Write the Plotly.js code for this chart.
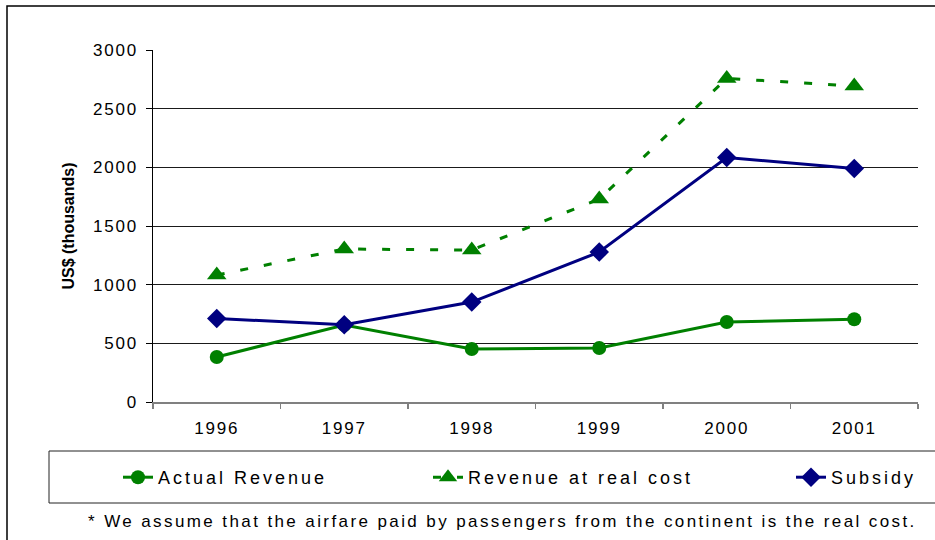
<!DOCTYPE html>
<html>
<head>
<meta charset="utf-8">
<script src="https://cdn.plot.ly/plotly-3.0.1.min.js"></script>
<style>
  html, body { margin: 0; padding: 0; background: #fff; }
  #chart { width: 935px; height: 540px; }
  .xtick text, .ytick text { letter-spacing: 1.8px; }
  .legendtext, text[class*="legend"], .infolayer [class^="legend"] text { letter-spacing: 3px !important; }
  .annotation-text { letter-spacing: 2.4px; }
</style>
</head>
<body>
<div id="chart"></div>
<script>
const years = ['1996', '1997', '1998', '1999', '2000', '2001'];
const actualRevenue = [384, 655, 452, 460, 682, 705];
const revenueRealCost = [1082, 1304, 1295, 1730, 2758, 2693];
const subsidy = [712, 658, 852, 1278, 2084, 1990];
const seriesNames = ['Actual Revenue', 'Revenue at real cost', 'Subsidy'];
const yTitle = 'US$ (thousands)';
const footnote = '* We assume that the airfare paid by passengers from the continent is the real cost.';

const FONT = '"Liberation Sans", Arial, sans-serif';
const GREEN = '#008000';
const NAVY = '#000080';

const traces = [
  {
    x: years, y: actualRevenue, name: seriesNames[0], type: 'scatter', mode: 'lines+markers',
    line: {color: GREEN, width: 3},
    marker: {symbol: 'circle', size: 14, color: GREEN},
    legend: 'legend'
  },
  {
    x: years, y: revenueRealCost, name: seriesNames[1], type: 'scatter', mode: 'lines+markers',
    line: {color: GREEN, width: 3, dash: '8px,16px'},
    marker: {symbol: 'triangle-up', size: 17, color: GREEN},
    legend: 'legend2'
  },
  {
    x: years, y: subsidy, name: seriesNames[2], type: 'scatter', mode: 'lines+markers',
    line: {color: NAVY, width: 3},
    marker: {symbol: 'diamond', size: 15, color: NAVY},
    legend: 'legend3'
  }
];

const L = 153, R = 17, T = 50, B = 138;
const W = 935, H = 540;
const pw = W - L - R, ph = H - T - B;
const px = (x) => (x - L) / pw;
const py = (y) => (H - B - y) / ph;

function legendAt(xPix) {
  return {
    orientation: 'h',
    x: px(xPix), y: py(459), xanchor: 'left', yanchor: 'top',
    bgcolor: 'rgba(0,0,0,0)', borderwidth: 0,
    font: {family: FONT, size: 18, color: '#000'},
    itemclick: false, itemdoubleclick: false
  };
}

const layout = {
  width: W, height: H,
  margin: {l: L, r: R, t: T, b: B, pad: 0},
  paper_bgcolor: '#fff', plot_bgcolor: '#fff',
  font: {family: FONT, size: 17, color: '#000'},
  showlegend: true,
  xaxis: {
    type: 'category',
    range: [-0.5, 5.5],
    showgrid: false,
    zeroline: false,
    showline: true, linecolor: '#808080', linewidth: 2,
    ticks: 'outside', tickson: 'boundaries', ticklen: 5, tickcolor: '#808080', tickwidth: 1.5,
    tickfont: {family: FONT, size: 17, color: '#000'},
    ticklabelstandoff: 10,
    fixedrange: true
  },
  yaxis: {
    range: [0, 3000],
    dtick: 500, tick0: 0,
    showgrid: true, gridcolor: '#1a1a1a', gridwidth: 1,
    zeroline: false,
    showline: true, linecolor: '#000', linewidth: 1.5,
    ticks: 'outside', ticklen: 6, tickcolor: '#000', tickwidth: 1,
    tickfont: {family: FONT, size: 17, color: '#000'},
    ticklabelstandoff: 4,
    title: {text: '<b>' + yTitle + '</b>', font: {family: FONT, size: 16, color: '#000'}, standoff: 14},
    fixedrange: true
  },
  legend: legendAt(118),
  legend2: legendAt(428),
  legend3: legendAt(791),
  annotations: [
    {
      xref: 'paper', yref: 'paper', x: px(502), y: py(521),
      xanchor: 'center', yanchor: 'middle', showarrow: false,
      text: footnote,
      font: {family: FONT, size: 17, color: '#000'}
    }
  ],
  shapes: [
    {
      type: 'rect', xref: 'paper', yref: 'paper', layer: 'below',
      x0: px(7), x1: px(960), y0: py(560), y1: py(6),
      line: {color: '#000', width: 1.5}, fillcolor: 'rgba(0,0,0,0)'
    },
    {
      type: 'rect', xref: 'paper', yref: 'paper', layer: 'above',
      x0: px(49), x1: px(960), y0: py(503), y1: py(451),
      line: {color: '#222', width: 1}, fillcolor: 'rgba(0,0,0,0)'
    }
  ]
};

Plotly.newPlot('chart', traces, layout, {displayModeBar: false, staticPlot: true}).then(function (gd) {
  // letter-spaced legend labels can be wider than Plotly measured; do not clip them
  gd.querySelectorAll('.infolayer .scrollbox').forEach(function (el) {
    el.removeAttribute('clip-path');
  });
});
</script>
</body>
</html>
